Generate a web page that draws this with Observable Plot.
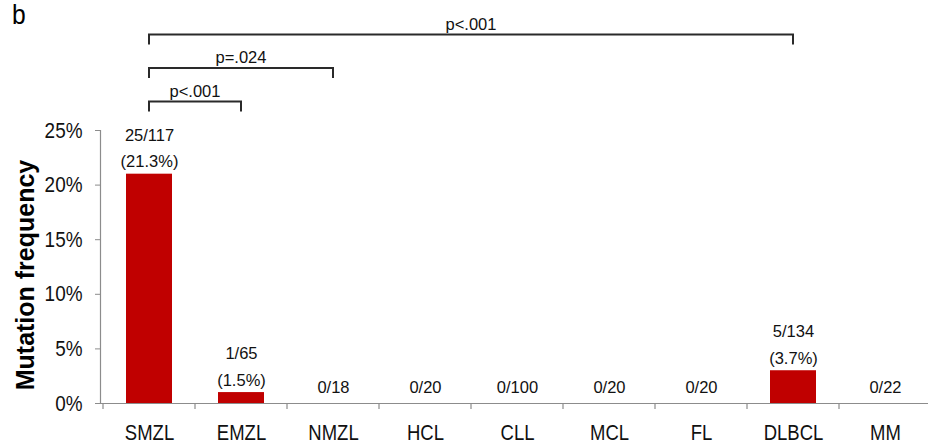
<!DOCTYPE html>
<html><head><meta charset="utf-8">
<script src="https://cdn.jsdelivr.net/npm/d3@7"></script>
<script src="https://cdn.jsdelivr.net/npm/@observablehq/plot@0.6"></script>
<style>
body{margin:0;background:#fff;}
#wrap{position:relative;width:928px;height:444px;overflow:hidden;}
#panel{position:absolute;left:12px;top:-1px;font:28px "Liberation Sans",Arial,sans-serif;color:#000;transform:scaleX(0.88);transform-origin:left top;}
#ytitle{position:absolute;left:25px;top:275px;transform:translate(-50%,-50%) rotate(-90deg);white-space:nowrap;font:bold 25px "Liberation Sans",Arial,sans-serif;color:#000;}
</style></head><body>
<div id="wrap"><div id="chart"></div><div id="panel">b</div><div id="ytitle">Mutation frequency</div></div>
<script>
const categories = ["SMZL","EMZL","NMZL","HCL","CLL","MCL","FL","DLBCL","MM"];
const barValues = [21, 1, 0, 0, 0, 0, 0, 3, 0];          // bar heights as drawn (%)
const countLabels = ["25/117","1/65","0/18","0/20","0/100","0/20","0/20","5/134","0/22"];
const percentLabels = ["(21.3%)","(1.5%)","","","","","","(3.7%)",""];
const yTicks = [0, 5, 10, 15, 20, 25];
const compFrom = ["SMZL","SMZL","SMZL"];
const compTo = ["EMZL","NMZL","DLBCL"];
const compLabels = ["p<.001","p=.024","p<.001"];

const regular = '"Liberation Sans",Arial,sans-serif';

const rows = categories.map((c, i) => ({
  cat: c, value: barValues[i],
  label: percentLabels[i] ? countLabels[i] + "\n" + percentLabels[i] : countLabels[i],
  two: !!percentLabels[i]
}));
const comps = compFrom.map((f, i) => ({from: f, to: compTo[i], label: compLabels[i], level: i}));

function bw(x) { return typeof x.bandwidth === "function" ? x.bandwidth() : x.bandwidth; }

function boundaryTicks(index, scales) {
  const x = scales.x, y0 = scales.y(0), w = bw(x);
  const g = d3.create("svg:g").attr("stroke", "#8c8c8c").attr("stroke-width", 1.2);
  const xs = categories.map(c => x(c)).concat([x(categories[categories.length - 1]) + w]);
  for (const px of xs) g.append("line").attr("x1", px).attr("x2", px).attr("y1", y0).attr("y2", y0 + 6);
  return g.node();
}

function brackets(index, scales) {
  const x = scales.x, w = bw(x), top = scales.y(25);
  const g = d3.create("svg:g");
  for (const d of comps) {
    const x1 = x(d.from) + w / 2, x2 = x(d.to) + w / 2;
    const yy = top - 28.5 - 33.5 * d.level;
    g.append("path")
      .attr("d", `M${x1},${yy + 10}V${yy}H${x2}V${yy + 10}`)
      .attr("fill", "none").attr("stroke", "#2a2a2a").attr("stroke-width", 2);
    g.append("text")
      .attr("x", (x1 + x2) / 2).attr("y", yy - 5)
      .attr("text-anchor", "middle")
      .attr("font-family", regular).attr("font-size", 16.5)
      .attr("fill", "#111")
      .text(d.label);
  }
  return g.node();
}

const chart = Plot.plot({
  width: 928, height: 444,
  marginLeft: 100, marginRight: 0, marginTop: 130, marginBottom: 41,
  style: {background: "#fff", overflow: "visible"},
  x: {domain: categories, range: [100, 934], padding: 0},
  y: {domain: [0, 25]},
  marks: [
    Plot.frame({anchor: "left", stroke: "#8c8c8c", strokeWidth: 1.2}),
    Plot.axisY({ticks: yTicks, tickFormat: d => d + "%", tickSize: 5, tickPadding: 13,
      stroke: "#8c8c8c", fontSize: 22, fontFamily: regular, fill: "#111", label: null}),
    Plot.axisX({tickSize: 0, tickPadding: 21, fontSize: 21.5, fontFamily: regular, fill: "#111", label: null}),
    Plot.barY(rows, {x: "cat", y: "value", fill: "#c00000", insetLeft: 23, insetRight: 23}),
    Plot.ruleY([0], {stroke: "#8c8c8c", strokeWidth: 1.2}),
    boundaryTicks,
    Plot.text(rows.filter(d => d.two), {x: "cat", y: "value", text: "label", lineAnchor: "bottom",
      dy: -7, lineHeight: 1.6, fontSize: 16.5, fontFamily: regular, fill: "#111"}),
    Plot.text(rows.filter(d => !d.two), {x: "cat", y: "value", text: "label", lineAnchor: "bottom",
      dy: -11, fontSize: 16.5, fontFamily: regular, fill: "#111"}),
    brackets
  ]
});
document.getElementById("chart").append(chart);

// condense axis tick labels horizontally, as in the reference figure
d3.select(chart).selectAll('g[aria-label="x-axis tick label"] text, g[aria-label="y-axis tick label"] text')
  .each(function () {
    const len = this.getComputedTextLength();
    this.setAttribute("textLength", (len * 0.86).toFixed(1));
    this.setAttribute("lengthAdjust", "spacingAndGlyphs");
  });
</script>
</body></html>
